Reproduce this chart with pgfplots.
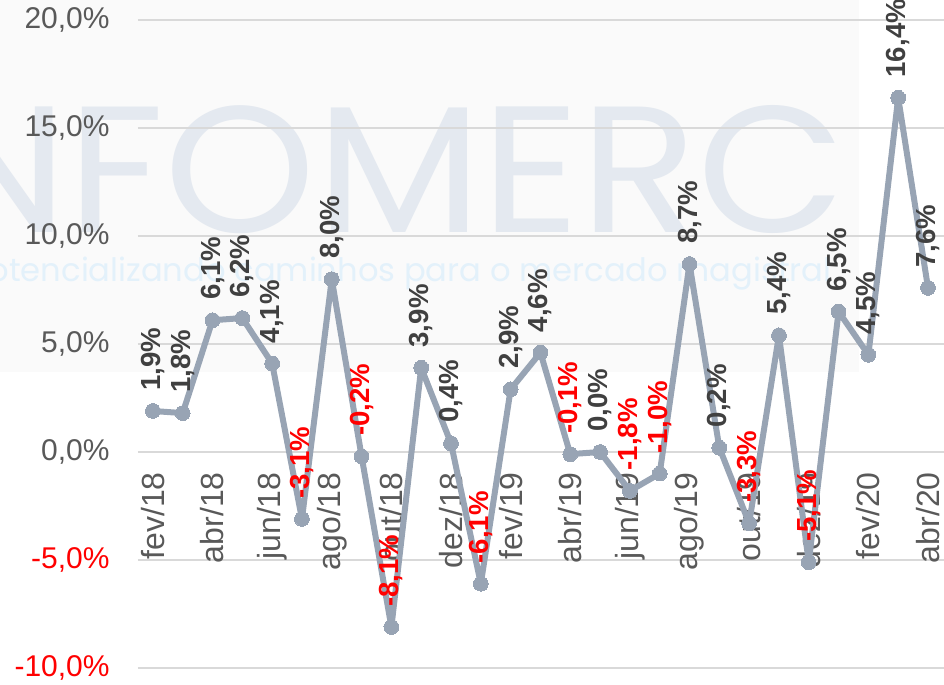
\documentclass[border=0pt]{standalone}
\usepackage{pgfplots}
\pgfplotsset{compat=1.18}
\usepackage{pgfplotstable}
\usepackage{fontspec}
\setmainfont{Liberation Sans}
\newfontfamily\wmfont{Poppins}
\definecolor{linec}{HTML}{98A4B4}
\definecolor{gridc}{HTML}{D9D9D9}
\definecolor{tickc}{HTML}{595959}
\definecolor{labc}{HTML}{404040}
\definecolor{wmc}{HTML}{E4E9F0}
\definecolor{wmsub}{HTML}{E3F1FA}
\definecolor{bgc}{HTML}{FAFAFA}

\pgfplotstableread{
x y
0 1.9
1 1.8
2 6.1
3 6.2
4 4.1
5 -3.1
6 8.0
7 -0.2
8 -8.1
9 3.9
10 0.4
11 -6.1
12 2.9
13 4.6
14 -0.1
15 0.0
16 -1.8
17 -1.0
18 8.7
19 0.2
20 -3.3
21 5.4
22 -5.1
23 6.5
24 4.5
25 16.4
26 7.6
}\datatable

\begin{document}
\begin{tikzpicture}
% background panel and watermark
\fill[bgc] (-69pt,334pt) rectangle (360.5pt,148pt);
\node[anchor=base east, inner sep=0pt, text=wmc, xscale=1.07, font=\wmfont\fontsize{90}{90}\selectfont] at (354.5pt,217.5pt) {INFOMERC};
\node[anchor=base east, inner sep=0pt, text=wmsub, font=\wmfont\fontsize{16.1}{16.1}\selectfont] at (347pt,193pt) {potencializando caminhos para o mercado magistral};
\begin{axis}[
  scale only axis,
  width=403.2pt, height=324pt,
  xmin=-0.5, xmax=26.55,
  ymin=-10, ymax=20,
  axis x line=middle,
  axis y line=left,
  axis line style={draw=none},
  hide obscured x ticks=false,
  hide obscured y ticks=false,
  major tick length=0pt,
  ymajorgrids,
  grid style={gridc, line width=0.75pt},
  xtick={0,2,...,26},
  xticklabels={fev/18,abr/18,jun/18,ago/18,out/18,dez/18,fev/19,abr/19,jun/19,ago/19,out/19,dez/19,fev/20,abr/20},
  xticklabel style={rotate=90, anchor=east, inner xsep=10pt, inner ysep=0pt, text=tickc, font=\fontsize{16}{16}\selectfont},
  ytick={-10,-5,0,5,10,15,20},
  yticklabels={{\textcolor{red}{-10,0\%}},{\textcolor{red}{-5,0\%}},{0,0\%},{5,0\%},{10,0\%},{15,0\%},{20,0\%}},
  yticklabel style={anchor=east, inner xsep=14pt, text=tickc, font=\fontsize{15}{15}\selectfont},
  /pgf/number format/assume math mode=true,
  clip=false,
]
\addplot[linec, line width=3pt, line join=round, line cap=round, mark=*, mark size=3.7pt, mark options={fill=linec, draw=linec, line width=0pt}] table[x=x,y=y] {\datatable};
\addplot[draw=none, mark=none, restrict y to domain=-0.0001:30,
  nodes near coords={\pgfmathprintnumber[fixed,fixed zerofill,precision=1,use comma]{\pgfplotspointmeta}\%},
  every node near coord/.append style={rotate=90, anchor=west, inner xsep=10pt, inner ysep=0pt, text=labc, font=\bfseries\fontsize{13.8}{13.8}\selectfont}]
  table[x=x,y=y] {\datatable};
\addplot[draw=none, mark=none, restrict y to domain=-30:-0.0001,
  nodes near coords={\pgfmathprintnumber[fixed,fixed zerofill,precision=1,use comma]{\pgfplotspointmeta}\%},
  every node near coord/.append style={rotate=90, anchor=west, inner xsep=10pt, inner ysep=0pt, text=red, font=\bfseries\fontsize{13.8}{13.8}\selectfont}]
  table[x=x,y=y] {\datatable};
\end{axis}
\pgfresetboundingbox
\path[use as bounding box] (-69pt,-8.5pt) rectangle (403pt,334pt);
\end{tikzpicture}
\end{document}
